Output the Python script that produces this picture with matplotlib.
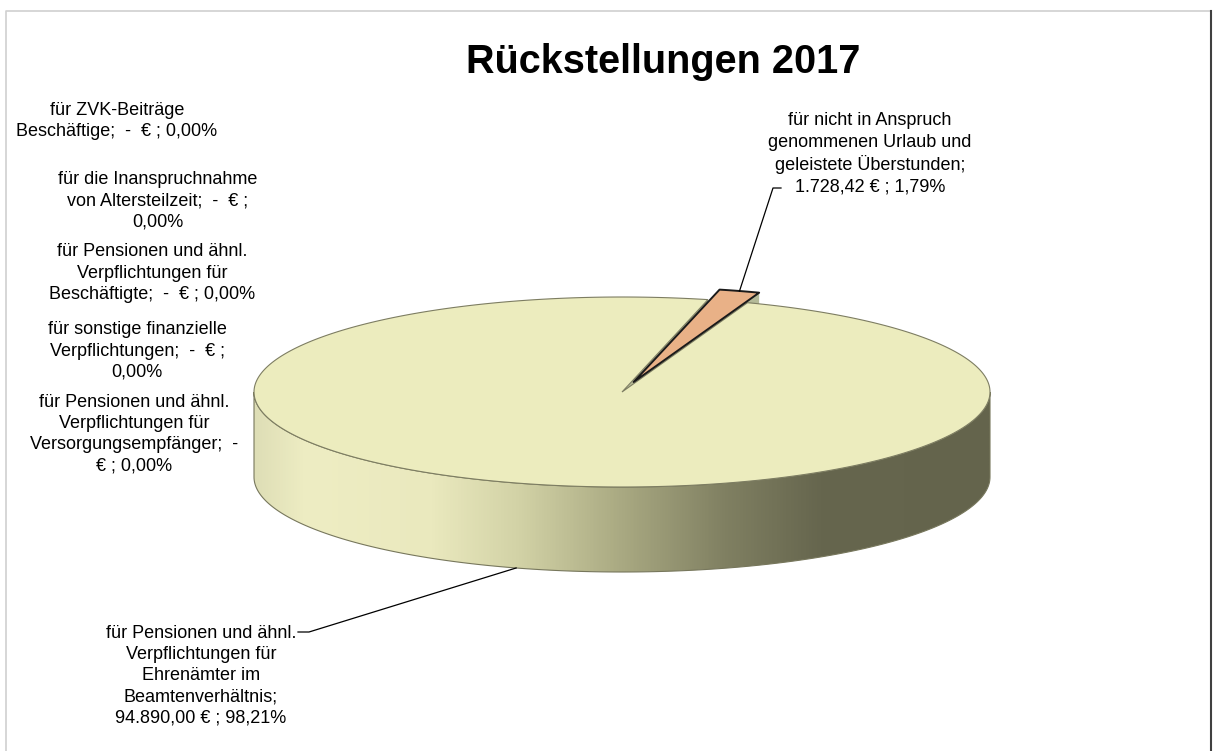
import numpy as np
import matplotlib
matplotlib.use("Agg")
import matplotlib.pyplot as plt
from matplotlib.patches import Polygon
from matplotlib.colors import LinearSegmentedColormap

plt.rcParams['font.family'] = ['Liberation Sans', 'DejaVu Sans']

# ---- data (in Excel slice order, clockwise from the first slice angle)
names = [
    "für nicht in Anspruch\ngenommenen Urlaub und\ngeleistete Überstunden;\n{v} ; {p}",
    "für ZVK-Beiträge\nBeschäftige; {v} ; {p}",
    "für die Inanspruchnahme\nvon Altersteilzeit; {v} ;\n{p}",
    "für Pensionen und ähnl.\nVerpflichtungen für\nBeschäftigte; {v} ; {p}",
    "für sonstige finanzielle\nVerpflichtungen; {v} ;\n{p}",
    "für Pensionen und ähnl.\nVerpflichtungen für\nVersorgungsempfänger;  -\n€ ; {p}",
    "für Pensionen und ähnl.\nVerpflichtungen für\nEhrenämter im\nBeamtenverhältnis;\n{v} ; {p}",
]
values = [1728.42, 0.0, 0.0, 0.0, 0.0, 0.0, 94890.00]
explode = [0.11, 0, 0, 0, 0, 0, 0]
top_colors = ['#E9B187', '#4F81BD', '#9BBB59', '#8064A2', '#4BACC6', '#F79646', '#ECECBE']
title = "Rückstellungen 2017"
first_slice_angle = 13.5   # degrees clockwise from 12 o'clock

# label centres in pixels
label_pos = [(870, 154), (117, 121), (158, 201), (152, 273), (137, 351), (134, 434), (201, 676)]

# pie geometry in pixels
cx, cy, rx, ry, depth = 622, 392, 368, 95, 85


def fmt_eur(v):
    if v == 0:
        return " -  €"
    s = f"{v:,.2f}".replace(",", "X").replace(".", ",").replace("X", ".")
    return s + " €"


def fmt_pct(v, tot):
    return f"{100 * v / tot:.2f}".replace(".", ",") + "%"


def pt(a, r=1.0, dz=0.0, off=(0.0, 0.0)):
    a = np.radians(a)
    return np.column_stack([cx + off[0] + r * rx * np.cos(a),
                            cy + off[1] - r * ry * np.sin(a) + dz])


total = sum(values)
fig = plt.figure(figsize=(12.13, 7.51), dpi=100)
ax = fig.add_axes([0, 0, 1, 1])
ax.set_xlim(0, 1213)
ax.set_ylim(751, 0)
ax.axis('off')

# slice angles (ccw from x axis)
angles = []
cur = 90 - first_slice_angle
for v in values:
    span = 360 * v / total
    angles.append((cur - span, cur))
    cur -= span

small_a0, small_a1 = angles[0]
mid = np.radians((small_a0 + small_a1) / 2)
off = (explode[0] * rx * np.cos(mid), -explode[0] * ry * np.sin(mid))

# exploded wedge: its front radial side face
t = np.array([small_a0])
face = np.vstack([[cx + off[0], cy + off[1]], pt(t, off=off), pt(t, dz=depth, off=off),
                  [cx + off[0], cy + off[1] + depth]])
ax.add_patch(Polygon(face, closed=True, fc='#B4BA98', ec='none', zorder=1))

# main slice: radial face at the gap
t = np.array([small_a1])
face = np.vstack([[cx, cy], pt(t), pt(t, dz=depth), [cx, cy + depth]])
ax.add_patch(Polygon(face, closed=True, fc='#B7BB96', ec='none', zorder=2))

# main slice: front side wall with gradient
ts = np.linspace(180, 360, 200)
wall = np.vstack([pt(ts), pt(ts[::-1], dz=depth)])
wall_patch = Polygon(wall, closed=True, fc='none', ec='#77775c', lw=0.8, zorder=4)
ax.add_patch(wall_patch)
stops = [(0.0, (222, 222, 182)), (0.07, (238, 237, 195)), (0.24, (234, 233, 190)),
         (0.36, (210, 210, 166)), (0.49, (172, 172, 132)), (0.64, (128, 128, 98)),
         (0.77, (102, 102, 78)), (1.0, (100, 100, 76))]
cmap = LinearSegmentedColormap.from_list('side', [(s, tuple(c / 255 for c in col)) for s, col in stops])
grad = np.linspace(0, 1, 512).reshape(1, -1)
im = ax.imshow(grad, cmap=cmap, aspect='auto', extent=(cx - rx, cx + rx, cy + ry + depth + 5, cy - 5),
               zorder=3, interpolation='bilinear')
im.set_clip_path(wall_patch)

# main slice top (everything except the gap left by the exploded wedge)
ts = np.linspace(small_a1, small_a0 + 360, 400)
top = np.vstack([[cx, cy], pt(ts)])
ax.add_patch(Polygon(top, closed=True, fc=top_colors[-1], ec='#7d7d62', lw=0.8, zorder=5))

# exploded wedge top
ts = np.linspace(small_a0, small_a1, 20)
wtop = np.vstack([[cx + off[0], cy + off[1]], pt(ts, off=off)])
ax.add_patch(Polygon(wtop, closed=True, fc=top_colors[0], ec='#1a1a1a', lw=1.4,
                     joinstyle='round', zorder=6))

# leader lines
p0 = pt(np.array([np.degrees(mid)]), off=off)[0]
ax.plot([p0[0], 773, 781], [p0[1], 188, 188], color='black', lw=0.9, zorder=7)
bmid = (small_a1 + small_a0 + 360) / 2
p1 = pt(np.array([bmid]), dz=depth)[0]
ax.plot([p1[0], 309, 298], [p1[1], 632, 632], color='black', lw=0.9, zorder=7)

# labels
for name, v, (x, y) in zip(names, values, label_pos):
    txt = name.format(v=fmt_eur(v), p=fmt_pct(v, total))
    ax.text(x, y, txt, ha='center', va='center', multialignment='center',
            fontsize=13, linespacing=1.32, color='black', zorder=8)

ax.text(663, 62, title, ha='center', va='center', fontsize=28.5, fontweight='bold', zorder=8)

# chart area border
ax.plot([6, 6, 1211], [751, 11, 11], color='#d0d0d0', lw=1.2, zorder=9)
ax.plot([1211, 1211], [11, 751], color='#404040', lw=1.5, zorder=9)

fig.savefig("out.png", dpi=100)
